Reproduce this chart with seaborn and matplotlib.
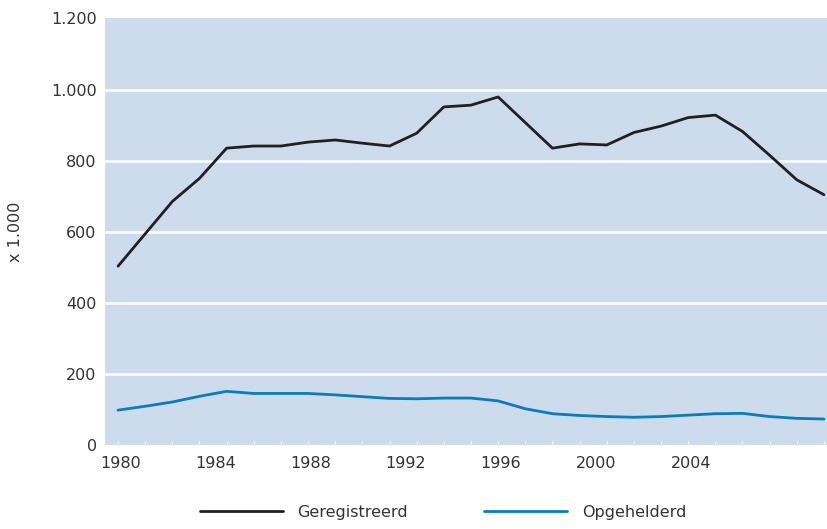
import numpy as np
import pandas as pd
import matplotlib
matplotlib.use('Agg')
import matplotlib.pyplot as plt
import seaborn as sns

# ==============================================
# data (x 1.000)
jaren = [1980, 1981, 1982, 1983, 1984, 1985, 1986, 1987, 1988, 1989,
         1990, 1991, 1992, 1993, 1994, 1995, 1996, 1997, 1998, 1999,
         2000, 2001, 2002, 2003, 2004, 2005, 2006]
geregistreerd = [503, 594, 685, 750, 835, 841, 841, 852, 858, 849,
                 841, 877, 951, 956, 979, 907, 835, 847, 844, 879,
                 897, 921, 928, 882, 815, 746, 704]
opgehelderd = [98, 109, 121, 137, 151, 145, 145, 145, 141, 136,
               131, 130, 132, 132, 124, 102, 88, 83, 80, 78,
               80, 84, 88, 89, 80, 75, 73]
reeksen = ['Geregistreerd', 'Opgehelderd']
kleuren = ['#231f20', '#0a7bbd']

y_ticks = [0, 200, 400, 600, 800, 1000, 1200]
y_labels = ['0', '200', '400', '600', '800', '1.000', '1.200']
x_labels = ['1980', '1984', '1988', '1992', '1996', '2000', '2004']
# label positions as they sit in the original picture
x_label_pos = [1980.1 + 3.5 * i for i in range(len(x_labels))]

df = pd.DataFrame({
    'jaar': jaren * 2,
    'waarde': geregistreerd + opgehelderd,
    'reeks': [reeksen[0]] * len(jaren) + [reeksen[1]] * len(jaren),
})

# ==============================================
sns.set_theme(style='white')
plt.rcParams['font.family'] = ['Liberation Sans Narrow', 'DejaVu Sans']

fig = plt.figure(figsize=(8.28, 5.29), dpi=100)
ax = fig.add_axes([105 / 828, 1 - 445 / 529, 1 - 105 / 828, (445 - 18.4) / 529])
ax.set_facecolor('#ccdcec')

sns.lineplot(data=df, x='jaar', y='waarde', hue='reeks', palette=kleuren,
             linewidth=2.0, ax=ax, legend=False)

for y in y_ticks[1:-1]:
    ax.axhline(y, color='white', linewidth=1.8, zorder=0.5)

ax.set_ylim(0, 1200)
ax.set_xlim(1979.52, 2006.15)
ax.set_yticks(y_ticks)
ax.set_yticklabels(y_labels)
ax.set_xticks(x_label_pos)
ax.set_xticklabels(x_labels)
ax.set_xticks(jaren, minor=True)
ax.tick_params(axis='both', which='major', length=0, labelsize=11.5,
               labelcolor='#333333')
ax.tick_params(axis='x', which='major', pad=8)
ax.tick_params(axis='y', which='major', pad=6)
ax.tick_params(axis='x', which='minor', direction='in', length=3,
               color='white', width=0.8, bottom=True)
ax.set_xlabel('')
ax.set_ylabel('x 1.000', fontsize=11.5, color='#333333', labelpad=20)
for s in ax.spines.values():
    s.set_visible(False)

handles = [plt.Line2D([], [], color=c, linewidth=2.0) for c in kleuren]
fig.legend(handles, reeksen, loc='center', bbox_to_anchor=(0.535, 1 - 512 / 529),
           ncol=2, frameon=False, fontsize=11.5, handlelength=5.2,
           handletextpad=0.9, columnspacing=4.8, labelcolor='#333333')

fig.savefig('out.png', dpi=100)
